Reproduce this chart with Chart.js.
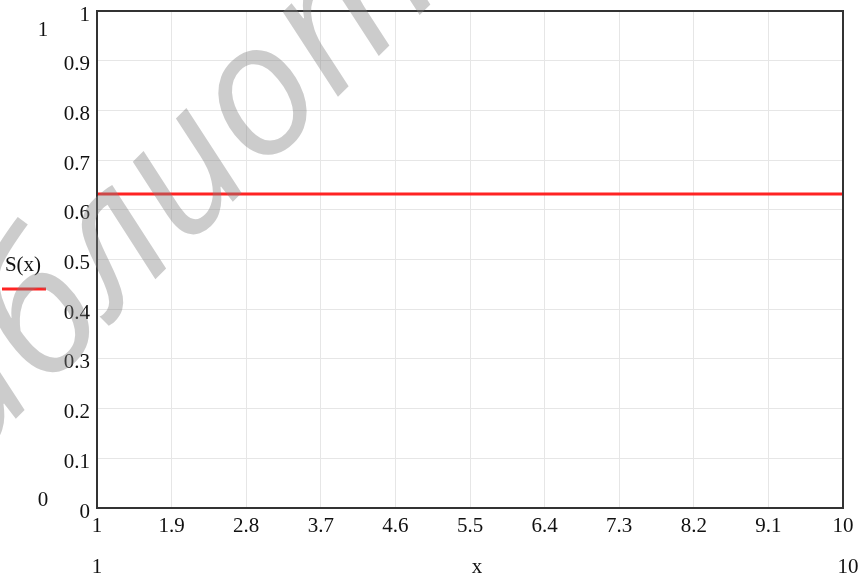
<!DOCTYPE html>
<html>
<head>
<meta charset="utf-8">
<script src="https://cdn.jsdelivr.net/npm/chart.js@4/dist/chart.umd.min.js"></script>
<style>
  html, body { margin: 0; padding: 0; background: #fff; }
  #wrap { width: 864px; height: 578px; position: relative; }
</style>
</head>
<body>
<div id="wrap"><canvas id="chartS"></canvas></div>
<script>
// datos de la grafica S(x)
const xValues = [1, 10];
const sValues = [0.632, 0.632];
const xTicks = [1, 1.9, 2.8, 3.7, 4.6, 5.5, 6.4, 7.3, 8.2, 9.1, 10];
const yTicks = [0, 0.1, 0.2, 0.3, 0.4, 0.5, 0.6, 0.7, 0.8, 0.9, 1];
const FONT = '"Liberation Serif", "Times New Roman", serif';

// marco del area, etiquetas extra y marca de agua
const extras = {
  id: 'extras',
  afterDatasetsDraw(chart) {
    const ctx = chart.ctx;
    const a = chart.chartArea;
    ctx.save();
    ctx.strokeStyle = '#333';
    ctx.lineWidth = 2;
    ctx.strokeRect(a.left, a.top, a.right - a.left, a.bottom - a.top);

    ctx.fillStyle = '#111';
    ctx.font = '21px ' + FONT;
    ctx.textAlign = 'center';
    ctx.textBaseline = 'middle';
    ctx.fillText('1', 43, 30);
    ctx.fillText('0', 43, 500);
    ctx.fillText('1', 97, 567);
    ctx.fillText('x', 477, 567);
    ctx.fillText('10', 848, 567);
    ctx.fillText('S(x)', 23, 265);

    ctx.strokeStyle = 'rgb(255,35,35)';
    ctx.lineWidth = 3;
    ctx.beginPath();
    ctx.moveTo(2, 289);
    ctx.lineTo(46, 289);
    ctx.stroke();

    // marca de agua, centrada en la "о"
    const size = 185;
    ctx.font = 'italic 500 ' + size + 'px "Open Sans", sans-serif';
    const w1 = ctx.measureText('библи').width;
    const wo = ctx.measureText('о').width;
    ctx.translate(262, 102);
    ctx.rotate(-45 * Math.PI / 180);
    ctx.fillStyle = 'rgba(128,128,128,0.4)';
    ctx.textAlign = 'left';
    ctx.textBaseline = 'alphabetic';
    ctx.fillText('библиотека', -(w1 + wo / 2), 0.27 * size);
    ctx.restore();
  }
};

new Chart(document.getElementById('chartS'), {
  type: 'line',
  data: {
    labels: xValues,
    datasets: [{
      label: 'S(x)',
      data: xValues.map((x, i) => ({ x: x, y: sValues[i] })),
      borderColor: 'rgb(255,35,35)',
      borderWidth: 3,
      pointRadius: 0,
      fill: false,
      tension: 0
    }]
  },
  options: {
    responsive: true,
    maintainAspectRatio: false,
    animation: false,
    layout: { padding: { top: 11, right: 21, left: 0, bottom: 0 } },
    plugins: { legend: { display: false }, tooltip: { enabled: false } },
    scales: {
      x: {
        type: 'linear',
        min: 1,
        max: 10,
        afterBuildTicks: (s) => { s.ticks = xTicks.map(v => ({ value: v })); },
        afterFit: (s) => { s.height = 70; },
        grid: { color: '#e6e6e6', drawTicks: false },
        border: { display: false },
        ticks: {
          color: '#111',
          font: { family: FONT, size: 21 },
          padding: 6,
          maxRotation: 0,
          autoSkip: false,
          callback: (v) => String(v)
        }
      },
      y: {
        min: 0,
        max: 1,
        afterBuildTicks: (s) => { s.ticks = yTicks.map(v => ({ value: v })); },
        afterFit: (s) => { s.width = 97; s.paddingTop = 0; s.paddingBottom = 0; },
        grid: { color: '#e6e6e6', drawTicks: false },
        border: { display: false },
        ticks: {
          color: '#111',
          font: { family: FONT, size: 21 },
          padding: 7,
          labelOffset: 4,
          callback: (v) => String(v)
        }
      }
    }
  },
  plugins: [extras]
});
</script>
</body>
</html>
